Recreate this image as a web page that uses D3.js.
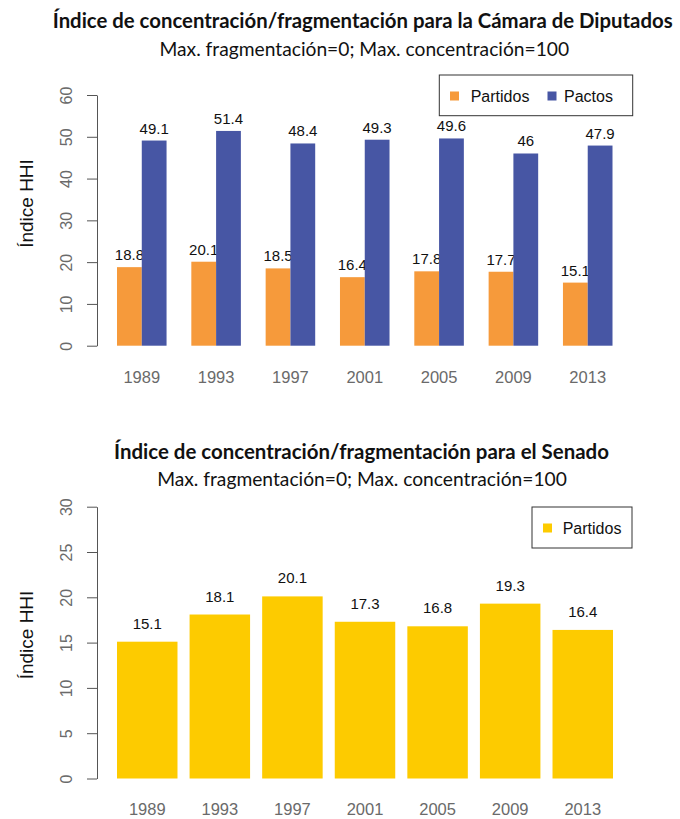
<!DOCTYPE html>
<html>
<head>
<meta charset="utf-8">
<script src="https://cdn.jsdelivr.net/npm/d3@7"></script>
<style>
  html, body { margin: 0; padding: 0; background: #fff; }
  svg { display: block; }
</style>
</head>
<body>
<svg id="chart" width="680" height="819"></svg>
<script>
// HHI concentration index by election year
const years = ["1989", "1993", "1997", "2001", "2005", "2009", "2013"];
const diputadosPartidos = [18.8, 20.1, 18.5, 16.4, 17.8, 17.7, 15.1];
const diputadosPactos = [49.1, 51.4, 48.4, 49.3, 49.6, 46, 47.9];
const senadoPartidos = [15.1, 18.1, 20.1, 17.3, 16.8, 19.3, 16.4];

const series = ["Partidos", "Pactos"];
const ticksDiputados = [0, 10, 20, 30, 40, 50, 60];
const ticksSenado = [0, 5, 10, 15, 20, 25, 30];

const titleDiputados = "Índice de concentración/fragmentación para la Cámara de Diputados";
const titleSenado = "Índice de concentración/fragmentación para el Senado";
const subtitle = "Max. fragmentación=0; Max. concentración=100";
const yTitle = "Índice HHI";

const colors = { Partidos: "#F69A3B", Pactos: "#4756A4", Senado: "#FDCB00" };
const axisGray = "#6a6a6a";
const labelFont = "Arial, 'Liberation Sans', Helvetica, sans-serif";
const titleFont = "Lato, 'Open Sans', sans-serif";

const svg = d3.select("#chart");

// Centered title whose size is fitted to a given line width
function fittedText(g, text, cx, baseline, width, weight) {
  const t = g.append("text")
    .attr("x", cx).attr("y", baseline)
    .attr("text-anchor", "middle")
    .style("font-family", titleFont)
    .style("font-weight", weight)
    .style("font-size", "16px")
    .attr("fill", "#111")
    .text(text);
  const w = t.node().getComputedTextLength();
  t.style("font-size", (16 * width / w).toFixed(2) + "px");
  return t;
}

function yAxis(g, y, ticks, axisX) {
  const ax = g.append("g")
    .attr("transform", `translate(${axisX},0)`)
    .call(d3.axisLeft(y).tickValues(ticks).tickSize(10).tickSizeOuter(0).tickFormat(d3.format("d")));
  ax.attr("font-family", null);
  ax.select(".domain").attr("stroke", "#555");
  ax.selectAll(".tick line").attr("stroke", "#555");
  ax.selectAll(".tick text")
    .attr("transform", "rotate(-90)")
    .attr("x", 0).attr("y", -25).attr("dy", 0)
    .attr("text-anchor", "middle")
    .attr("fill", axisGray)
    .style("font-family", labelFont)
    .style("font-size", "16px");
  return ax;
}

function xLabels(g, x, baseline) {
  const ax = g.append("g")
    .attr("transform", `translate(0,${baseline})`)
    .call(d3.axisBottom(x).tickSize(0));
  ax.attr("font-family", null);
  ax.select(".domain").remove();
  ax.selectAll(".tick text")
    .attr("y", 0).attr("dy", 0)
    .attr("fill", axisGray)
    .style("font-family", labelFont)
    .style("font-size", "16.5px");
}

function yAxisTitle(g, cx, cy) {
  g.append("text")
    .attr("transform", `translate(${cx},${cy}) rotate(-90)`)
    .attr("text-anchor", "middle")
    .attr("fill", "#111")
    .style("font-family", labelFont)
    .style("font-size", "19px")
    .text(yTitle);
}

function legend(g, x0, y0, w, h, items) {
  g.append("rect")
    .attr("x", x0).attr("y", y0).attr("width", w).attr("height", h)
    .attr("fill", "#fff").attr("stroke", "#333").attr("stroke-width", 1);
  items.forEach(it => {
    g.append("rect")
      .attr("x", it.sx).attr("y", y0 + 16.5).attr("width", 9).attr("height", 9)
      .attr("fill", it.color);
    g.append("text")
      .attr("x", it.tx).attr("y", y0 + 27)
      .attr("fill", "#111")
      .style("font-family", labelFont)
      .style("font-size", "16px")
      .text(it.label);
  });
}

// ---- Cámara de Diputados ----
{
  const g = svg.append("g");
  fittedText(g, titleDiputados, 362.7, 27.7, 620, 700);
  fittedText(g, subtitle, 364.3, 56, 410, 400);

  const y = d3.scaleLinear().domain([0, 60]).range([345.7, 95]);
  const x = d3.scaleBand().domain(years).range([117, 612.5]).paddingInner(1 / 3).paddingOuter(0);
  const xs = d3.scaleBand().domain(series).range([0, x.bandwidth()]);

  const rows = years.map((yr, i) => ({ year: yr, Partidos: diputadosPartidos[i], Pactos: diputadosPactos[i] }));

  const groups = g.selectAll("g.grp").data(rows).join("g")
    .attr("class", "grp")
    .attr("transform", d => `translate(${x(d.year)},0)`);

  const cells = groups.selectAll("g.cell")
    .data(d => series.map(s => ({ key: s, value: d[s] })))
    .join("g").attr("class", "cell");

  cells.append("rect")
    .attr("x", d => xs(d.key))
    .attr("y", d => y(d.value))
    .attr("width", xs.bandwidth())
    .attr("height", d => y(0) - y(d.value))
    .attr("fill", d => colors[d.key]);

  cells.append("text")
    .attr("x", d => xs(d.key) + xs.bandwidth() / 2)
    .attr("y", d => y(d.value) - 7)
    .attr("text-anchor", "middle")
    .attr("fill", "#111")
    .style("font-family", labelFont)
    .style("font-size", "15px")
    .text(d => String(d.value));

  yAxis(g, y, ticksDiputados, 97);
  xLabels(g, x, 383.3);
  yAxisTitle(g, 32.5, 203.5);

  legend(g, 439.3, 75, 193.4, 40.7, [
    { label: "Partidos", color: colors.Partidos, sx: 450, tx: 470.7 },
    { label: "Pactos", color: colors.Pactos, sx: 547.5, tx: 564 }
  ]);
}

// ---- Senado ----
{
  const g = svg.append("g");
  fittedText(g, titleSenado, 361.5, 459, 495, 700);
  fittedText(g, subtitle, 362, 485.5, 410, 400);

  const y = d3.scaleLinear().domain([0, 30]).range([778.5, 506.7]);
  const x = d3.scaleBand().domain(years).range([117, 613]).paddingInner(1 / 6).paddingOuter(0);

  const rows = years.map((yr, i) => ({ year: yr, value: senadoPartidos[i] }));

  g.selectAll("rect.bar").data(rows).join("rect")
    .attr("class", "bar")
    .attr("x", d => x(d.year))
    .attr("y", d => y(d.value))
    .attr("width", x.bandwidth())
    .attr("height", d => y(0) - y(d.value))
    .attr("fill", colors.Senado);

  g.selectAll("text.val").data(rows).join("text")
    .attr("class", "val")
    .attr("x", d => x(d.year) + x.bandwidth() / 2)
    .attr("y", d => y(d.value) - 13)
    .attr("text-anchor", "middle")
    .attr("fill", "#111")
    .style("font-family", labelFont)
    .style("font-size", "15px")
    .text(d => String(d.value));

  yAxis(g, y, ticksSenado, 97);
  xLabels(g, x, 815);
  yAxisTitle(g, 32.5, 635);

  legend(g, 532, 507, 100, 41, [
    { label: "Partidos", color: colors.Senado, sx: 543, tx: 562.7 }
  ]);
}
</script>
</body>
</html>
